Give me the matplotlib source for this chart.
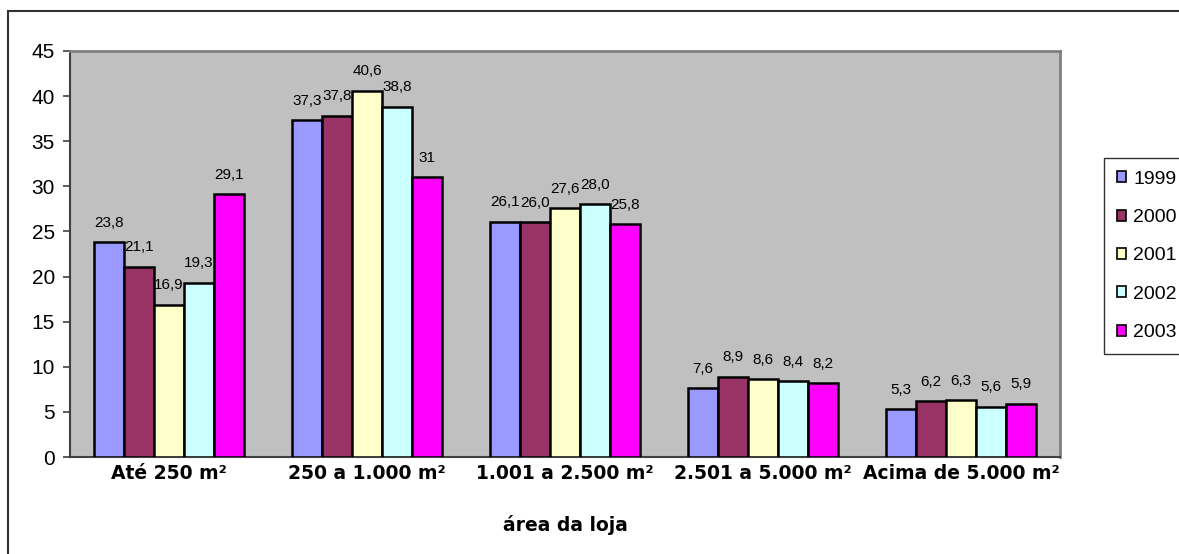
import matplotlib.pyplot as plt
import numpy as np
from matplotlib.patches import Rectangle

plt.rcParams['font.family'] = ['Liberation Sans', 'DejaVu Sans']

categories = ["Até 250 m²", "250 a 1.000 m²", "1.001 a 2.500 m²",
              "2.501 a 5.000 m²", "Acima de 5.000 m²"]
years = ["1999", "2000", "2001", "2002", "2003"]

v1999 = [23.8, 37.3, 26.1, 7.6, 5.3]
v2000 = [21.1, 37.8, 26.0, 8.9, 6.2]
v2001 = [16.9, 40.6, 27.6, 8.6, 6.3]
v2002 = [19.3, 38.8, 28.0, 8.4, 5.6]
v2003 = [29.1, 31.0, 25.8, 8.2, 5.9]
labels2003 = ["29,1", "31", "25,8", "8,2", "5,9"]

series = [v1999, v2000, v2001, v2002, v2003]
colors = ["#9999FF", "#993366", "#FFFFCC", "#CCFFFF", "#FF00FF"]

fig = plt.figure(figsize=(11.79, 5.54), dpi=100)
ax = fig.add_axes([0.0594, 0.175, 0.8396, 0.733])
ax.set_facecolor("#C0C0C0")

x = np.arange(len(categories))
w = 0.152
for i, (vals, col, yr) in enumerate(zip(series, colors, years)):
    pos = x + (i - 2) * w
    ax.bar(pos, vals, width=w, color=col, edgecolor="black", linewidth=1.8,
           label=yr, zorder=3)
    for j, (p, v) in enumerate(zip(pos, vals)):
        if i == 4:
            txt = labels2003[j]
        else:
            txt = ("%.1f" % v).replace(".", ",")
        ax.annotate(txt, (p, v), xytext=(0, 14), textcoords="offset points",
                    ha="center", va="center", fontsize=11, zorder=4)

ax.set_xlim(-0.5, len(categories) - 0.5)
ax.set_ylim(0, 45)
ax.set_yticks(range(0, 46, 5))
ax.tick_params(axis="y", labelsize=15, length=5, width=1.2, color="#404040",
               pad=6)
ax.tick_params(axis="x", length=0, pad=5)
ax.set_xticks(x)
ax.set_xticklabels(categories, fontsize=13.5, fontweight="bold",
                   family="DejaVu Sans")
ax.set_xlabel("área da loja", fontsize=13.5, fontweight="bold",
              family="DejaVu Sans", labelpad=23)

for s in ["top", "right"]:
    ax.spines[s].set_color("#808080")
    ax.spines[s].set_linewidth(2)
for s in ["left", "bottom"]:
    ax.spines[s].set_color("#404040")
    ax.spines[s].set_linewidth(1.5)

leg = fig.legend(loc="upper left", bbox_to_anchor=(1104 / 1179, 1 - 158 / 554),
                 fontsize=14, frameon=True, fancybox=False, edgecolor="black",
                 handlelength=0.5, handleheight=0.5, handletextpad=0.35,
                 labelspacing=1.1, borderpad=0.65, borderaxespad=0)
leg.get_frame().set_linewidth(1)
for h in leg.legend_handles:
    h.set_linewidth(1.2)

# outer chart border
fig.patches.append(Rectangle((8 / 1179, -0.1), 1.2, 1 - 11 / 554 + 0.1,
                             transform=fig.transFigure, fill=False,
                             edgecolor="#333333", linewidth=1.5))

fig.savefig("out.png", dpi=100)
